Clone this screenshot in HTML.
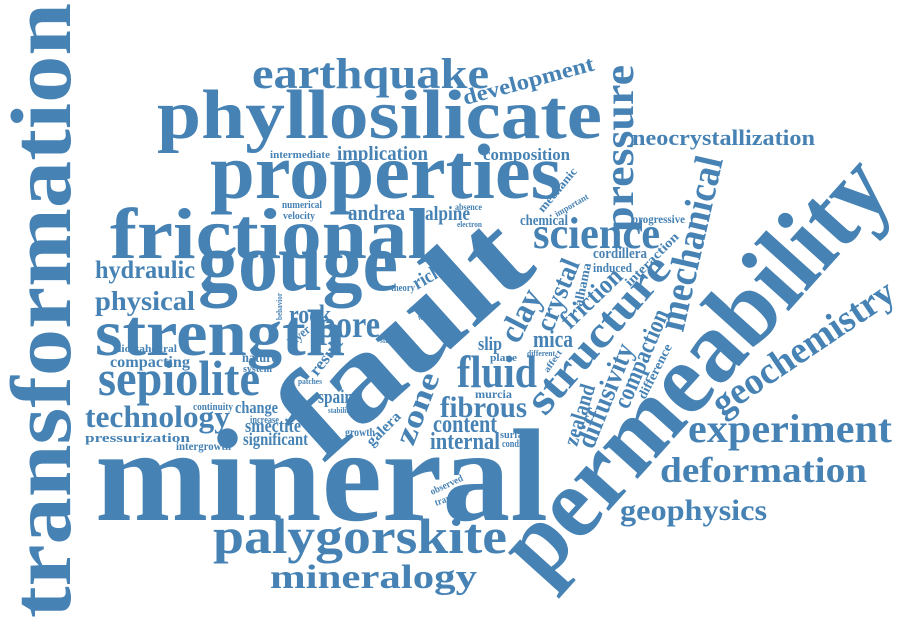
<!DOCTYPE html>
<html><head><meta charset="utf-8">
<style>
html,body{margin:0;padding:0;background:#fff;width:900px;height:640px;overflow:hidden}
svg text{font-family:"Liberation Serif","DejaVu Serif",serif;font-weight:bold;fill:#4682b4}
</style></head>
<body>
<svg id="cloud" width="900" height="640" viewBox="0 0 900 640" xmlns="http://www.w3.org/2000/svg"></svg>
<script>
const words = [
["transformation",70,618,86,615,-90],
["mineral",95,520,132,453,0],
["fault",322,465,126,292,-42],
["permeability",542,585,102,528,-48],
["phyllosilicate",157,138,70,445,0],
["properties",210,198,78,352,0],
["frictional",110,258,72,320,0],
["gouge",198,290,84,200,0],
["strength",95,355,66,250,0],
["earthquake",252,88,43,237,0],
["development",465,105,22,135,-15],
["sepiolite",98,395,50,162,0],
["technology",85,427,31,145,0],
["physical",95,310,27,100,0],
["hydraulic",95,278,25,100,0],
["compacting",110,367,16,80,0],
["dioctahedral",115,352,11,62,0],
["pressurization",85,442,13,105,0],
["intergrowth",176,450,12,55,0],
["continuity",193,410,11,40,0],
["change",235,413,17,43,0],
["increase",250,423,10,29,0],
["smectite",245,432,19,56,0],
["significant",243,445,18,65,0],
["nature",242,362,14,35,0],
["system",243,372,11,29,0],
["spain",318,403,19,35,0],
["stability",328,413,8,24,0],
["patches",298,384,8,24,0],
["growth",345,436,12,30,0],
["galera",372,447,15,42,-45],
["zone",413,447,31,75,-69],
["result",317,377,17,43,-52],
["layer",292,347,13,25,-40],
["rock",289,323,26,42,0],
["pore",318,337,38,62,0],
["behavior",282,320,8,27,-90],
["intermediate",270,158,11,60,0],
["implication",337,160,20,91,0],
["numerical",282,208,11,40,0],
["velocity",283,219,11,32,0],
["andrea",348,220,22,57,0],
["alpine",425,220,20,45,0],
["absence",455,210,9,27,0],
["electron",457,227,8,25,0],
["rich",417,290,20,30,-30],
["theory",391,291,11,24,0],
["band",474,308,8,16,-90],
["micro",410,311,8,18,0],
["water",418,320,8,17,0],
["betic",438,336,8,14,0],
["study",380,343,8,17,0],
["slip",478,350,19,24,0],
["plane",490,361,11,27,0],
["fluid",457,387,46,80,0],
["murcia",475,398,12,37,0],
["fibrous",440,417,30,87,0],
["content",433,432,25,64,0],
["internal",430,449,24,70,0],
["surface",500,438,11,32,0],
["condition",502,447,10,33,0],
["observed",432,495,10,35,-25],
["transient",436,506,10,35,-20],
["mica",533,347,24,40,0],
["different",527,356,8,28,0],
["clay",518,345,34,55,-63],
["crystal",552,333,28,75,-68],
["friction",570,330,26,75,-44],
["alhama",582,307,13,44,-78],
["science",533,248,44,127,0],
["chemical",520,225,15,48,0],
["mechanic",543,213,12,54,-50],
["important",557,217,9,37,-30],
["composition",483,160,17,87,0],
["pressure",633,232,42,167,-90],
["progressive",632,223,12,53,0],
["cordillera",593,258,15,54,0],
["induced",593,272,13,39,0],
["interaction",630,287,13,70,-45],
["structure",545,417,44,195,-49],
["affect",548,373,9,25,-55],
["mechanical",683,333,40,178,-77],
["zealand",577,447,22,63,-73],
["diffusivity",593,450,28,110,-68],
["compaction",628,410,25,105,-67],
["difference",645,400,13,60,-63],
["neocrystallization",632,145,22,183,0],
["geochemistry",722,417,38,212,-34],
["experiment",688,442,40,204,0],
["deformation",660,482,36,207,0],
["geophysics",620,520,30,147,0],
["palygorskite",213,553,50,294,0],
["mineralogy",270,588,34,207,0]
];
const svg = document.getElementById('cloud');
const NS = 'http://www.w3.org/2000/svg';
for (const w of words) {
  const t = document.createElementNS(NS, 'text');
  
  
  t.setAttribute('font-size', w[3]);
  t.setAttribute('textLength', w[4]);
  t.setAttribute('lengthAdjust', 'spacingAndGlyphs');
  t.setAttribute('x', 0);
  t.setAttribute('y', 0);
  t.setAttribute('transform', 'translate(' + w[1] + ',' + w[2] + ') rotate(' + w[5] + ')');
  t.textContent = w[0];
  svg.appendChild(t);
}
</script>
</body></html>
